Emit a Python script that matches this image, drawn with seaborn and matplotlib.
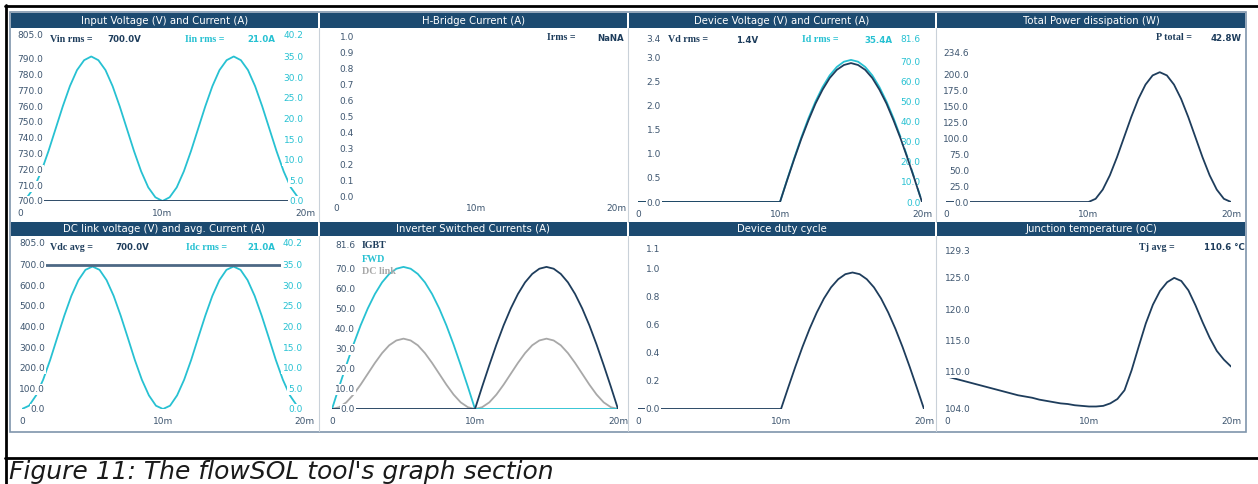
import matplotlib
matplotlib.use("Agg")
import matplotlib.pyplot as plt
from matplotlib.patches import Rectangle
from matplotlib.lines import Line2D
import numpy as np
import pandas as pd
import seaborn as sns

# time base of every graph in ms (one 50 Hz period)
t_ms = np.arange(0, 20.5, 0.5)
x_ticks = [0, 10, 20]
x_labels = ["0", "10m", "20m"]

# input voltage / current
vin_v = [700.0] * 41
iin_a = [0, 0.9, 3.3, 7.2, 12.1, 17.5, 22.9, 27.8, 31.7, 34.1, 35.0, 34.1, 31.7, 27.8, 22.9, 17.5, 12.1, 7.2, 3.3, 0.9, 0,
         0.9, 3.3, 7.2, 12.1, 17.5, 22.9, 27.8, 31.7, 34.1, 35.0, 34.1, 31.7, 27.8, 22.9, 17.5, 12.1, 7.2, 3.3, 0.9, 0]

# device voltage / current
vd_v = [0] * 21 + [0.45, 0.89, 1.31, 1.69, 2.04, 2.33, 2.57, 2.74, 2.84, 2.88,
                   2.84, 2.74, 2.57, 2.33, 2.04, 1.69, 1.31, 0.89, 0.45, 0]
id_a = [0] * 21 + [11.1, 21.8, 32.1, 41.6, 50.0, 57.2, 63.0, 67.2, 69.8, 70.7,
                   69.8, 67.2, 63.0, 57.2, 50.0, 41.6, 32.1, 21.8, 11.1, 0]

# total power dissipation
p_w = [0] * 21 + [5.0, 19.4, 41.8, 70.1, 101.5, 132.9, 161.2, 183.6, 198.0, 203.0,
                  198.0, 183.6, 161.2, 132.9, 101.5, 70.1, 41.8, 19.4, 5.0, 0]

# dc link
vdc_v = [700.0] * 41
idc_a = [0, 0.8, 3.3, 7.1, 11.9, 17.3, 22.6, 27.4, 31.2, 33.7, 34.5, 33.7, 31.2, 27.4, 22.6, 17.3, 11.9, 7.1, 3.3, 0.8, 0,
         0.8, 3.3, 7.1, 11.9, 17.3, 22.6, 27.4, 31.2, 33.7, 34.5, 33.7, 31.2, 27.4, 22.6, 17.3, 11.9, 7.1, 3.3, 0.8, 0]

# inverter switched currents
igbt_a = [0] * 21 + [11.1, 21.8, 32.1, 41.6, 50.0, 57.2, 63.0, 67.2, 69.8, 70.7,
                     69.8, 67.2, 63.0, 57.2, 50.0, 41.6, 32.1, 21.8, 11.1, 0]
fwd_a = [0, 11.1, 21.8, 32.1, 41.6, 50.0, 57.2, 63.0, 67.2, 69.8, 70.7,
         69.8, 67.2, 63.0, 57.2, 50.0, 41.6, 32.1, 21.8, 11.1, 0] + [0] * 20
dclink_a = [0, 0.9, 3.3, 7.2, 12.1, 17.5, 22.9, 27.8, 31.7, 34.1, 35.0, 34.1, 31.7, 27.8, 22.9, 17.5, 12.1, 7.2, 3.3, 0.9, 0,
            0.9, 3.3, 7.2, 12.1, 17.5, 22.9, 27.8, 31.7, 34.1, 35.0, 34.1, 31.7, 27.8, 22.9, 17.5, 12.1, 7.2, 3.3, 0.9, 0]

# duty cycle
duty = [0] * 21 + [0.152, 0.301, 0.443, 0.573, 0.689, 0.789, 0.869, 0.927, 0.963, 0.975,
                   0.963, 0.927, 0.869, 0.789, 0.689, 0.573, 0.443, 0.301, 0.152, 0]

# junction temperature
tj_c = [109.2, 108.9, 108.6, 108.3, 108.0, 107.7, 107.4, 107.1, 106.8, 106.5,
        106.2, 106.0, 105.8, 105.5, 105.3, 105.1, 104.9, 104.8, 104.6, 104.5,
        104.4, 104.4, 104.5, 104.9, 105.6, 107.0, 110.2, 114.0, 117.7, 120.7,
        122.9, 124.3, 125.0, 124.5, 123.0, 120.6, 117.9, 115.4, 113.3, 111.9, 110.8]

titles = ["Input Voltage (V) and Current (A)", "H-Bridge Current (A)",
          "Device Voltage (V) and Current (A)", "Total Power dissipation (W)",
          "DC link voltage (V) and avg. Current (A)", "Inverter Switched Currents (A)",
          "Device duty cycle", "Junction temperature (oC)"]

df = pd.DataFrame({"t": t_ms, "vin": vin_v, "iin": iin_a, "vd": vd_v, "id": id_a, "p": p_w,
                   "vdc": vdc_v, "idc": idc_a, "igbt": igbt_a, "fwd": fwd_a,
                   "dclink": dclink_a, "duty": duty, "tj": tj_c})

W, H = 1258, 484
DARK = "#1e3d5c"
CYAN = "#27c1d2"
GREY = "#a8a8a8"
TICK = "#3e5670"
BAR = "#1c4a70"
LW = 1.3

sns.set_style("white")
plt.rcParams["font.family"] = ["DejaVu Sans"]

fig = plt.figure(figsize=(W / 100, H / 100), dpi=100)


def fbox(x0, y0, x1, y1):
    return [x0 / W, 1 - y1 / H, (x1 - x0) / W, (y1 - y0) / H]


def new_ax(box):
    ax = fig.add_axes(fbox(*box))
    return ax


def clean(ax):
    ax.set_axisbelow(False)
    for s in ax.spines.values():
        s.set_visible(False)
    ax.patch.set_alpha(0)
    ax.set_xlabel("")
    ax.set_ylabel("")


def x_axis(ax):
    ax.set_xlim(0, 20)
    ax.tick_params(axis="x", length=3.5, width=0.9, color=TICK, pad=2.5)
    ax.set_xticks(x_ticks, x_labels, fontsize=6.5, color=TICK)


def no_y(ax, lim):
    ax.set_ylim(*lim)
    ax.tick_params(axis="y", left=False, right=False, labelleft=False, labelright=False)


def y_left(ax, lim, ticks, labels, inset=23):
    ax.set_ylim(*lim)
    ax.yaxis.tick_left()
    ax.tick_params(axis="y", length=0, pad=-inset * 0.72)
    ax.set_yticks(ticks, labels, color=TICK, ha="right", fontsize=6.5,
                  bbox=dict(facecolor="white", edgecolor="none", pad=0.8))


def y_right(ax, lim, ticks, labels):
    ax.set_ylim(*lim)
    ax.yaxis.tick_right()
    ax.tick_params(axis="y", length=0, pad=-1)
    ax.set_yticks(ticks, labels, color=CYAN, ha="right", fontsize=6.5,
                  bbox=dict(facecolor="white", edgecolor="none", pad=0.8))


def fmt(vals, top, top_lbl=None):
    ticks = list(vals) + [top]
    labels = [f"{v:.1f}" for v in vals] + [top_lbl or f"{top:.1f}"]
    return ticks, labels


def line(ax, col, color):
    sns.lineplot(data=df, x="t", y=col, ax=ax, color=color, linewidth=LW)


def ftext(x, y, s, color=DARK, serif=False, **kw):
    fam = "Liberation Serif" if serif else "DejaVu Sans"
    size = 7.2 if serif else 6.2
    fig.text(x / W, 1 - y / H, s, color=color, fontsize=size, fontweight="bold",
             family=fam, va="center", ha="left", **kw)


# ---- panel 1: input voltage and current
a1 = new_ax((20, 35, 305, 201))
a1v = a1.twinx()
a1r = a1.twinx()
line(a1, "iin", CYAN)
line(a1v, "vin", DARK)
for a in (a1, a1v, a1r):
    clean(a)
x_axis(a1)
no_y(a1, (0, 40.2))
y_left(a1v, (700, 805), *fmt(range(700, 800, 10), 805))
y_right(a1r, (0, 40.2), *fmt(np.arange(0, 40, 5), 40.2))

# ---- panel 2: h-bridge current (no data)
a2 = new_ax((336, 36, 616, 196))
clean(a2)
x_axis(a2)
y_left(a2, (0, 1.0), [i / 10 for i in range(11)], [f"{i / 10:.1f}" for i in range(11)], inset=18)

# ---- panel 3: device voltage and current
a3 = new_ax((638, 38, 922, 202))
a3v = a3.twinx()
line(a3, "id", CYAN)
line(a3v, "vd", DARK)
for a in (a3, a3v):
    clean(a)
x_axis(a3)
y_right(a3, (0, 81.6), *fmt(range(0, 80, 10), 81.6))
y_left(a3v, (0, 3.4), *fmt(np.arange(0, 3.1, 0.5), 3.4))

# ---- panel 4: total power
a4 = new_ax((946, 52, 1231, 202))
line(a4, "p", DARK)
clean(a4)
x_axis(a4)
y_left(a4, (0, 234.6), *fmt(range(0, 201, 25), 234.6))

# ---- panel 5: dc link
a5 = new_ax((22, 243, 304, 409))
a5v = a5.twinx()
a5r = a5.twinx()
line(a5, "idc", CYAN)
sns.lineplot(data=df, x="t", y="vdc", ax=a5v, color="#4d6884", linewidth=2.0)
for a in (a5, a5v, a5r):
    clean(a)
x_axis(a5)
no_y(a5, (0, 40.2))
y_left(a5v, (0, 805), *fmt(range(0, 701, 100), 805))
y_right(a5r, (0, 40.2), *fmt(np.arange(0, 40, 5), 40.2))

# ---- panel 6: inverter switched currents
a6 = new_ax((332, 245, 618, 409))
line(a6, "dclink", GREY)
line(a6, "fwd", CYAN)
line(a6, "igbt", DARK)
clean(a6)
x_axis(a6)
y_left(a6, (0, 81.6), *fmt(range(0, 80, 10), 81.6))

# ---- panel 7: duty cycle
a7 = new_ax((638, 248, 924, 409))
line(a7, "duty", DARK)
clean(a7)
x_axis(a7)
y_left(a7, (0, 1.15), *fmt(np.arange(0, 1.01, 0.2), 1.15, "1.1"), inset=22)

# ---- panel 8: junction temperature
a8 = new_ax((947, 251, 1231, 409))
line(a8, "tj", DARK)
clean(a8)
x_axis(a8)
y_left(a8, (104, 129.3), *fmt([104, 110, 115, 120, 125], 129.3), inset=24)

# ---- frame, title bars, separators
cols = [(11, 318), (320, 627), (629, 935), (937, 1245)]
rows = [(13, 28), (222, 236)]
for r, (y0, y1) in enumerate(rows):
    for c, (x0, x1) in enumerate(cols):
        fig.add_artist(Rectangle((x0 / W, 1 - y1 / H), (x1 - x0) / W, (y1 - y0) / H,
                                 transform=fig.transFigure, facecolor=BAR, edgecolor="none"))
        fig.text((x0 + x1) / 2 / W, 1 - (y0 + y1) / 2 / H, titles[r * 4 + c], color="white",
                 fontsize=7.3, ha="center", va="center")

for xs in (319, 628, 936):
    fig.add_artist(Line2D([xs / W, xs / W], [1 - 28 / H, 1 - 222 / H], transform=fig.transFigure,
                          color="#c9d1d9", linewidth=0.8))
    fig.add_artist(Line2D([xs / W, xs / W], [1 - 236 / H, 1 - 431 / H], transform=fig.transFigure,
                          color="#c9d1d9", linewidth=0.8))
fig.add_artist(Rectangle((10 / W, 1 - 432 / H), 1236 / W, 420 / H, transform=fig.transFigure,
                         facecolor="none", edgecolor="#7f95ab", linewidth=1.2))

# outer black box of the screenshot
for (xa, ya, xb, yb) in [(5, 6, 1258, 6), (6, 5, 6, 484), (5, 457.5, 1258, 457.5)]:
    fig.add_artist(Line2D([xa / W, xb / W], [1 - ya / H, 1 - yb / H], transform=fig.transFigure,
                          color="black", linewidth=2.0))

# ---- readouts
ftext(50, 39, "Vin rms =", serif=True)
ftext(107, 39.5, "700.0V")
ftext(185, 39, "Iin rms =", color=CYAN, serif=True)
ftext(247, 39.5, "21.0A", color=CYAN)
ftext(547, 38, "Irms =", serif=True)
ftext(597, 38.5, "NaNA")
ftext(668, 40, "Vd rms =", serif=True)
ftext(736, 40.5, "1.4V")
ftext(802, 40, "Id rms =", color=CYAN, serif=True)
ftext(864, 40.5, "35.4A", color=CYAN)
ftext(1156, 38, "P total =", serif=True)
ftext(1211, 38.5, "42.8W")
ftext(50, 247, "Vdc avg =", serif=True)
ftext(115, 248, "700.0V")
ftext(186, 247, "Idc rms =", color=CYAN, serif=True)
ftext(247, 248, "21.0A", color=CYAN)
ftext(362, 246, "IGBT", serif=True)
ftext(362, 259, "FWD", color=CYAN, serif=True)
ftext(362, 271, "DC link", color=GREY, serif=True)
ftext(1139, 247, "Tj avg =", serif=True)
ftext(1204, 248, "110.6 \u00b0C")

fig.text(9 / W, 1 - 479 / H, "Figure 11: The flowSOL tool's graph section", fontsize=18,
         style="italic", family="DejaVu Sans", color="#1a1a1a", va="baseline", ha="left")

fig.savefig("out.png", dpi=100)
